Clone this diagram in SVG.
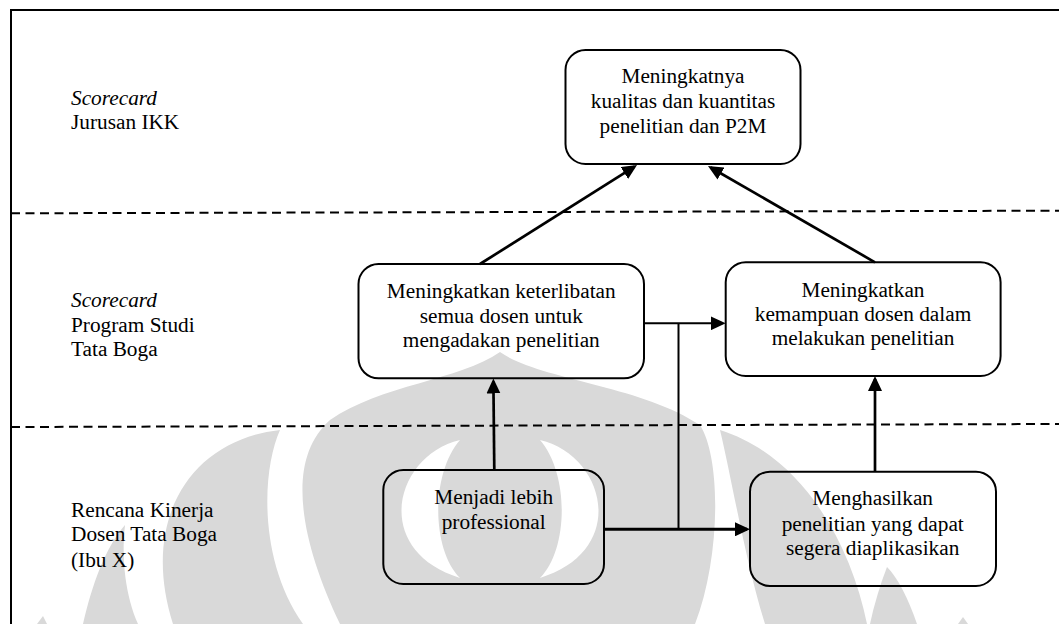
<svg xmlns="http://www.w3.org/2000/svg" width="1059" height="624" viewBox="0 0 1059 624">
  <style>
    text { font-family: "Liberation Serif", "Times New Roman", serif; font-size: 21.3px; fill: #000; }
    .c { text-anchor: middle; }
    .it { font-style: italic; }
    .box { fill: none; stroke: #000; stroke-width: 2; }
    .wm { fill: #d9d9d9; stroke: none; }
    .wh { fill: #fff; stroke: none; }
    .dash { fill: none; stroke: #000; stroke-width: 2; stroke-dasharray: 9 5.5; }
    .frame { fill: none; stroke: #000; stroke-width: 2; }
    .ln { fill: none; stroke: #000; stroke-linecap: butt; }
  </style>
  <defs>
    <marker id="ah" markerUnits="userSpaceOnUse" markerWidth="15" markerHeight="14" refX="12" refY="7" orient="auto">
      <path d="M0,0 L15,7 L0,14 Z" fill="#000"/>
    </marker>
  </defs>

  <rect x="0" y="0" width="1059" height="624" fill="#fff"/>

  <g id="watermark">
    <path class="wm" d="M 83,624 C 92,585 105,548 125,525 C 121,560 126,597 138,624 Z"/>
    <path class="wm" d="M 280,430 C 190,440 140,520 173,624 L 303,624 C 258,560 262,470 280,430 Z"/>
    <path class="wm" d="M 340,624 C 300,540 285,460 330,420 C 380,385 460,380 500,352 C 540,380 640,385 700,425 C 722,460 720,560 695,624 Z"/>
    <path class="wh" d="M 460,440 C 395,455 370,550 460,578 C 432,550 430,475 460,440 Z"/>
    <path class="wh" d="M 540,440 C 605,455 630,550 540,578 C 568,550 570,475 540,440 Z"/>
    <path class="wm" d="M 720,430 C 732,480 745,560 765,624 L 867,624 C 850,540 800,455 720,430 Z"/>
    <path class="wm" d="M 917,624 C 908,598 898,578 887,567 C 880,585 874,605 870,624 Z"/>
    <path class="wm" d="M 37,624 L 43,616 L 47,624 Z"/>
    <path class="wm" d="M 958,624 L 963,617 L 968,624 Z"/>
  </g>

  <g id="frame">
    <path class="frame" d="M 11,624 L 11,10 L 1059,10"/>
  </g>

  <g id="lanes">
    <line class="dash" x1="11" y1="213.3" x2="1059" y2="210.7"/>
    <line class="dash" x1="11" y1="427" x2="1059" y2="424"/>
    <text x="71" y="105" class="it">Scorecard</text>
    <text x="71" y="129">Jurusan IKK</text>
    <text x="71" y="307" class="it">Scorecard</text>
    <text x="71" y="331.7">Program Studi</text>
    <text x="71" y="355.5">Tata Boga</text>
    <text x="71" y="516.7">Rencana Kinerja</text>
    <text x="71" y="541">Dosen Tata Boga</text>
    <text x="71" y="567">(Ibu X)</text>
  </g>

  <g id="node-top">
    <rect class="box" x="565.5" y="50" width="235" height="114" rx="20" ry="20"/>
    <text class="c" x="683" y="83.3">Meningkatnya</text>
    <text class="c" x="683" y="108.3">kualitas dan kuantitas</text>
    <text class="c" x="683" y="133.3">penelitian dan P2M</text>
  </g>

  <g id="node-mid-left">
    <rect class="box" x="358.5" y="264" width="285.5" height="114.3" rx="20" ry="20"/>
    <text class="c" x="501.3" y="298.3">Meningkatkan keterlibatan</text>
    <text class="c" x="501.3" y="322.7">semua dosen untuk</text>
    <text class="c" x="501.3" y="347.3">mengadakan penelitian</text>
  </g>

  <g id="node-mid-right">
    <rect class="box" x="725.7" y="262.3" width="274.9" height="113.7" rx="20" ry="20"/>
    <text class="c" x="863" y="296.7">Meningkatkan</text>
    <text class="c" x="863" y="320.7">kemampuan dosen dalam</text>
    <text class="c" x="863" y="345">melakukan penelitian</text>
  </g>

  <g id="node-bottom-left">
    <rect class="box" x="383.3" y="470" width="220.7" height="114" rx="20" ry="20"/>
    <text class="c" x="493.7" y="504">Menjadi lebih</text>
    <text class="c" x="493.7" y="529.3">professional</text>
  </g>

  <g id="node-bottom-right">
    <rect class="box" x="750" y="471.7" width="246" height="114.3" rx="20" ry="20"/>
    <text class="c" x="872.7" y="505">Menghasilkan</text>
    <text class="c" x="872.7" y="530.5">penelitian yang dapat</text>
    <text class="c" x="872.7" y="555">segera diaplikasikan</text>
  </g>

  <g id="connectors">
    <line class="ln" stroke-width="2.7" x1="480" y1="264" x2="634.5" y2="166.6" marker-end="url(#ah)"/>
    <line class="ln" stroke-width="2.7" x1="875" y1="262.3" x2="710.6" y2="167.5" marker-end="url(#ah)"/>
    <line class="ln" stroke-width="2.7" x1="494.3" y1="470" x2="493.4" y2="381.5" marker-end="url(#ah)"/>
    <line class="ln" stroke-width="2.7" x1="875" y1="471.7" x2="875" y2="379" marker-end="url(#ah)"/>
    <line class="ln" stroke-width="2" x1="644" y1="323.3" x2="722.7" y2="323.3" marker-end="url(#ah)"/>
    <line class="ln" stroke-width="2" x1="678.5" y1="323.3" x2="678.5" y2="529.3"/>
    <line class="ln" stroke-width="3" x1="604" y1="529.3" x2="747" y2="529.3" marker-end="url(#ah)"/>
  </g>
</svg>
